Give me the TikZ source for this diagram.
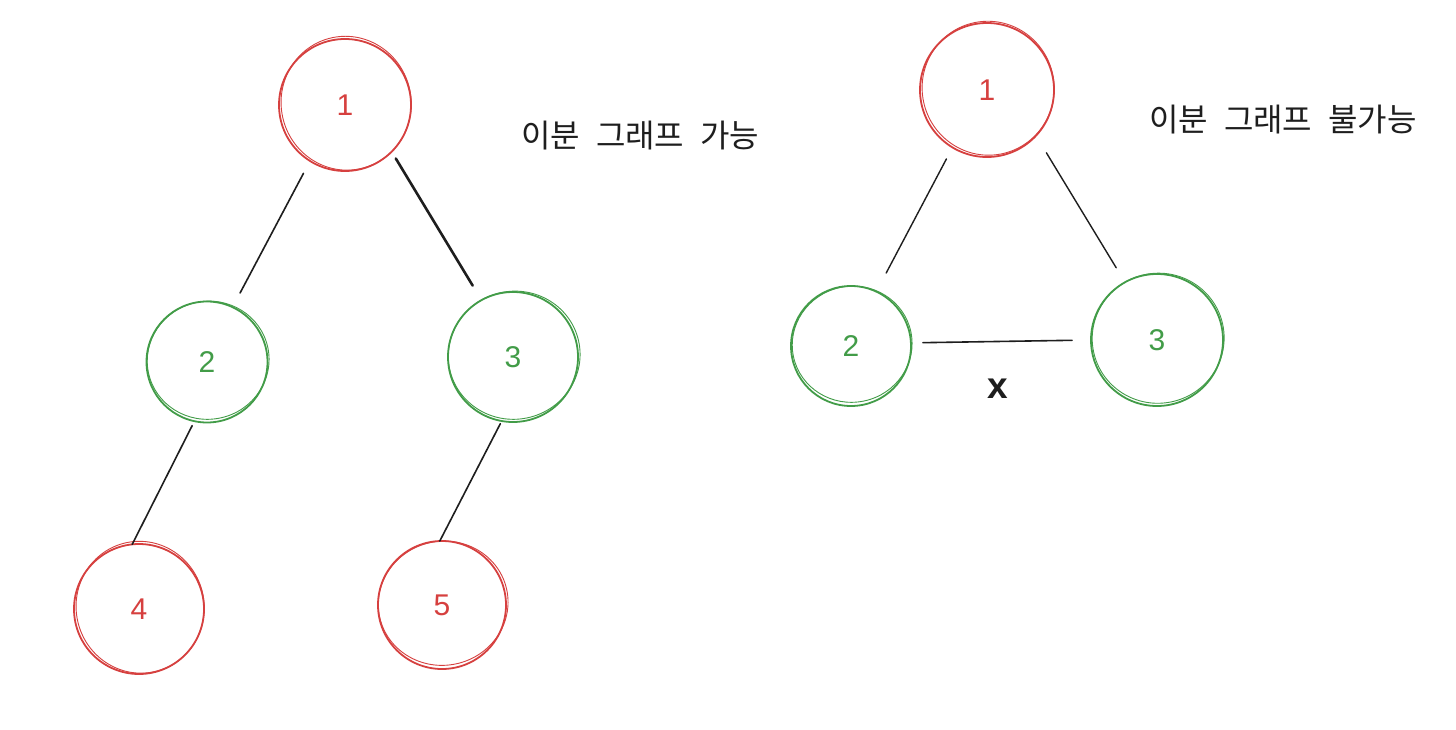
\documentclass[tikz,border=0pt]{standalone}
\usepackage{fontspec}
\setmainfont{Liberation Sans}
\newfontfamily\krfont{Noto Sans CJK KR}
\usetikzlibrary{calc}
\definecolor{cred}{RGB}{214,64,63}
\definecolor{cgreen}{RGB}{66,156,72}
\definecolor{cline}{RGB}{30,30,30}
\tikzset{
  gnode/.style={circle, draw=#1, text=#1, line width=1.8pt, inner sep=0pt, outer sep=0pt,
    font=\fontsize{30}{32}\selectfont},
  rnode/.style={gnode=cred},
  grnode/.style={gnode=cgreen},
  edge/.style={draw=cline, line width=1.6pt, line cap=round},
  label/.style={font=\krfont\fontsize{32}{36}\selectfont, text=cline, inner sep=0pt}
}
\newcommand{\sketchy}[4]{% node, color, rx, ry
  \draw[#2, line width=0.9pt, rotate around={12:(#1)}] ($(#1)+(1.5,-1.5)$) ellipse [x radius=#3pt, y radius=#4pt];
}
\begin{document}
\begin{tikzpicture}[x=1pt,y=-1pt]
\useasboundingbox[fill=white] (0,0) rectangle (1456,730);
% left graph
\node[rnode, minimum size=132pt] (L1) at (345,105) {1};
\node[grnode, minimum size=121pt] (L2) at (207,362) {2};
\node[grnode, minimum size=130pt] (L3) at (513,357) {3};
\node[rnode, minimum size=130pt] (L4) at (139,609) {4};
\node[rnode, minimum size=128pt] (L5) at (442,605) {5};
\sketchy{L1}{cred}{65}{67}
\sketchy{L2}{cgreen}{61}{59}
\sketchy{L3}{cgreen}{66}{64}
\sketchy{L4}{cred}{64}{66}
\sketchy{L5}{cred}{65}{62}
\draw[edge, shorten <=14pt, shorten >=16pt] (L1.-122) -- (L2.65);
\draw[edge, line width=2.6pt, shorten <=8pt, shorten >=17pt] (L1.-45) -- (L3.119);
\draw[edge, shorten <=5pt] (L2.-102) -- (L4.96);
\draw[edge, shorten <=3pt] (L3.-100) -- (L5.92);
\node[label, anchor=west] (T1) at (521,136) {이분\hspace{0.5em}그래프\hspace{0.5em}가능};
% right graph
\node[rnode, minimum size=134pt] (R1) at (987,90) {1};
\node[grnode, minimum size=120pt] (R2) at (851,346) {2};
\node[grnode, minimum size=132pt] (R3) at (1157,340) {3};
\sketchy{R1}{cred}{66}{67}
\sketchy{R2}{cgreen}{60}{58}
\sketchy{R3}{cgreen}{66}{65}
\draw[edge, line width=1.4pt, shorten <=13pt, shorten >=21pt] (R1.-121) -- (R2.65);
\draw[edge, line width=1.4pt, shorten <=20pt, shorten >=17pt] (R1.-43) -- (R3.119);
\draw[edge, shorten <=12pt, shorten >=19pt] (R2.3) -- (R3.180);
\node[font=\bfseries\fontsize{37}{40}\selectfont, text=cline] (X) at (998,389) {x};
\node[label, anchor=west] (T2) at (1149,120) {이분\hspace{0.5em}그래프\hspace{0.5em}불가능};
\end{tikzpicture}
\end{document}
